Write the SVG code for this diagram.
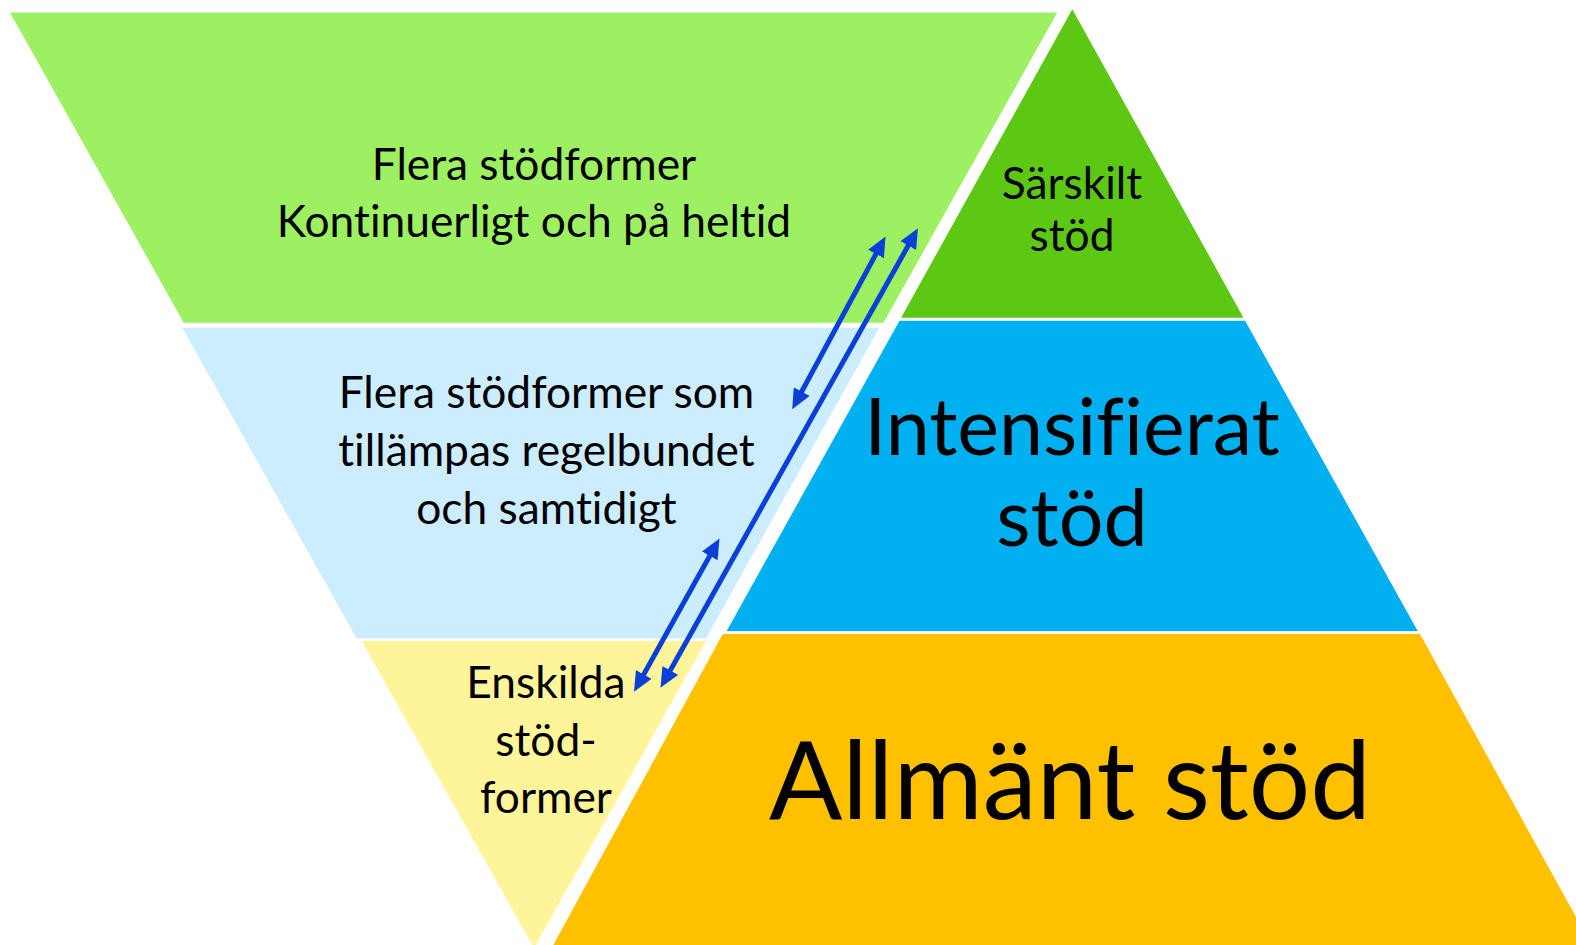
<svg xmlns="http://www.w3.org/2000/svg" width="1576" height="945" viewBox="0 0 1576 945">
  <style>
    .t { font-family: Lato, "Open Sans", sans-serif; fill: #000; text-anchor: middle; font-variant-ligatures: none; font-feature-settings: "liga" 0, "clig" 0, "dlig" 0; }
    .s { font-size: 44.3px; }
    .arrow { stroke: #0840D8; stroke-width: 5; fill: none; marker-start: url(#ah); marker-end: url(#ah); }
  </style>
  <defs>
    <marker id="ah" viewBox="0 0 20 18" refX="11" refY="9" markerWidth="20" markerHeight="18" markerUnits="userSpaceOnUse" orient="auto-start-reverse">
      <path d="M0,0 L20,9 L0,18 z" fill="#0840D8"/>
    </marker>
  </defs>
  <rect width="1576" height="945" fill="#fff"/>

  <g id="level-green">
    <polygon points="10,12.5 1057.3,12.5 883.5,322.7 183.7,322.7" fill="#9CF061"/>
    <text class="t s" x="534" y="180">Flera stödformer</text>
    <text class="t s" x="534" y="237.3">Kontinuerligt och på heltid</text>
  </g>

  <g id="level-lightblue">
    <polygon points="182.3,327.7 879.3,327.7 706,638.5 356.7,638.5" fill="#CCEDFD"/>
    <text class="t s" x="546.5" y="408.3">Flera stödformer som</text>
    <text class="t s" x="546.5" y="466.3">tillämpas regelbundet</text>
    <text class="t s" x="546.5" y="523.5">och samtidigt</text>
  </g>

  <g id="level-yellow">
    <polygon points="361.7,641 706,641 534,948" fill="#FEF59A"/>
    <text class="t s" x="546" y="697.7">Enskilda</text>
    <text class="t s" x="546" y="756">stöd-</text>
    <text class="t s" x="546" y="813.3">former</text>
  </g>

  <g id="tier-sarskilt">
    <polygon points="1072.3,9.3 1243.5,317.7 901.1,317.7" fill="#5CC814"/>
    <text class="t s" x="1072" y="199.3">Särskilt</text>
    <text class="t s" x="1072" y="250.7">stöd</text>
  </g>

  <g id="tier-intensifierat">
    <polygon points="899.5,320.7 1245.1,320.7 1417.7,631 726.7,631" fill="#00B0F0"/>
    <text class="t" x="1072" y="455" font-size="79">Intensifierat</text>
    <text class="t" x="1072" y="546" font-size="79">stöd</text>
  </g>

  <g id="tier-allmant">
    <polygon points="722.7,634 1420,634 1576,917 1576,945 553.3,945" fill="#FFC000"/>
    <text class="t" x="1070" y="819" font-size="108.5">Allmänt stöd</text>
  </g>

  <g id="connectors">
    <line class="arrow" x1="881.2" y1="244.3" x2="796.5" y2="401.3"/>
    <line class="arrow" x1="913.6" y1="236.0" x2="664.9" y2="680.0"/>
    <line class="arrow" x1="715.1" y1="546.3" x2="638.4" y2="684.0"/>
  </g>
</svg>
